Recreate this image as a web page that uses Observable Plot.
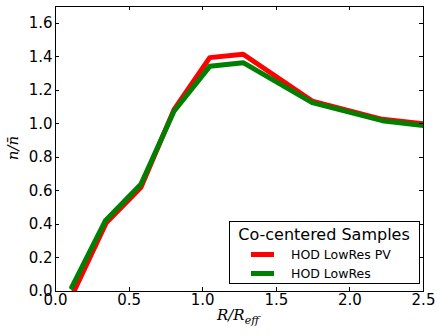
<!DOCTYPE html>
<html><head><meta charset="utf-8">
<script src="https://cdn.jsdelivr.net/npm/d3@7"></script>
<script src="https://cdn.jsdelivr.net/npm/@observablehq/plot@0.6"></script>
<style>body{margin:0;background:#fff}svg{display:block}</style>
</head><body><div id="chart"></div>
<script>
const radiusPV = [0.125, 0.345, 0.58, 0.805, 1.048, 1.275, 1.744, 2.22, 2.5];
const ratioPV  = [0.0, 0.41, 0.62, 1.085, 1.395, 1.415, 1.136, 1.027, 1.0];
const radiusBase = [0.11, 0.34, 0.58, 0.805, 1.048, 1.275, 1.744, 2.22, 2.5];
const ratioBase  = [0.025, 0.424, 0.64, 1.075, 1.343, 1.365, 1.127, 1.019, 0.99];
const seriesNames = ["HOD LowRes PV", "HOD LowRes"];
const seriesColors = ["#ff0000", "#008000"];
const legendTitle = "Co-centered Samples";
const xTicks = [0, 0.5, 1.0, 1.5, 2.0, 2.5];
const yTicks = [0, 0.2, 0.4, 0.6, 0.8, 1.0, 1.2, 1.4, 1.6];

const pv = radiusPV.map((x, i) => ({x, y: ratioPV[i]}));
const base = radiusBase.map((x, i) => ({x, y: ratioBase[i]}));
const fmt = d3.format(".1f");

const plot = Plot.plot({
  width: 440, height: 336,
  marginLeft: 55, marginRight: 17, marginTop: 6, marginBottom: 45,
  style: {fontFamily: "DejaVu Sans", fontSize: "15px", background: "white", color: "black"},
  x: {domain: [0, 2.5]},
  y: {domain: [0, 1.7]},
  marks: [
    Plot.line(pv, {x: "x", y: "y", stroke: seriesColors[0], strokeWidth: 5, clip: true}),
    Plot.line(base, {x: "x", y: "y", stroke: seriesColors[1], strokeWidth: 5, clip: true}),
    Plot.axisX({ticks: xTicks, tickSize: 0, tickPadding: 3, tickFormat: fmt, label: null, fontSize: 15}),
    Plot.axisY({ticks: yTicks, tickSize: 0, tickPadding: 3, tickFormat: fmt, label: null, fontSize: 15}),
    Plot.frame({stroke: "black", strokeWidth: 1})
  ]
});
document.getElementById("chart").appendChild(plot);

const svg = d3.select(plot);
const sx = plot.scale("x"), sy = plot.scale("y");
const L = 55, R = 440 - 17, T = 6, B = 336 - 45;
const g = svg.append("g").attr("stroke", "black").attr("stroke-width", 1);
for (const v of xTicks) {
  const px = Math.round(sx.apply(v)) + 0.5;
  g.append("line").attr("x1", px).attr("x2", px).attr("y1", B).attr("y2", B - 4);
  g.append("line").attr("x1", px).attr("x2", px).attr("y1", T).attr("y2", T + 4);
}
for (const v of yTicks) {
  const py = Math.round(sy.apply(v)) + 0.5;
  g.append("line").attr("x1", L).attr("x2", L + 4).attr("y1", py).attr("y2", py);
  g.append("line").attr("x1", R).attr("x2", R - 4).attr("y1", py).attr("y2", py);
}

// axis labels
const xl = svg.append("text").attr("x", 238).attr("y", 320).attr("text-anchor", "middle")
  .attr("font-family", "DejaVu Serif").attr("font-style", "italic").attr("font-size", 15);
xl.append("tspan").text("R/R");
xl.append("tspan").attr("dy", 4).attr("font-size", 11).text("eff");

svg.append("text").attr("transform", "translate(18,148) rotate(-90)").attr("text-anchor", "middle")
  .attr("font-family", "DejaVu Serif").attr("font-style", "italic").attr("font-size", 15)
  .text("n/n\u0304");

// legend
const lg = svg.append("g");
lg.append("rect").attr("x", 229.5).attr("y", 221.5).attr("width", 190).attr("height", 62)
  .attr("fill", "white").attr("stroke", "black");
lg.append("text").attr("x", 324).attr("y", 240).attr("text-anchor", "middle")
  .attr("font-family", "DejaVu Sans").attr("font-size", 16).text(legendTitle);
seriesNames.forEach((name, i) => {
  const y = 254.5 + i * 19;
  lg.append("line").attr("x1", 251).attr("x2", 274).attr("y1", y).attr("y2", y)
    .attr("stroke", seriesColors[i]).attr("stroke-width", 5);
  lg.append("text").attr("x", 291).attr("y", y + 4.5).attr("text-anchor", "start")
    .attr("font-family", "DejaVu Sans").attr("font-size", 12.5).text(name);
});
</script>
</body></html>
